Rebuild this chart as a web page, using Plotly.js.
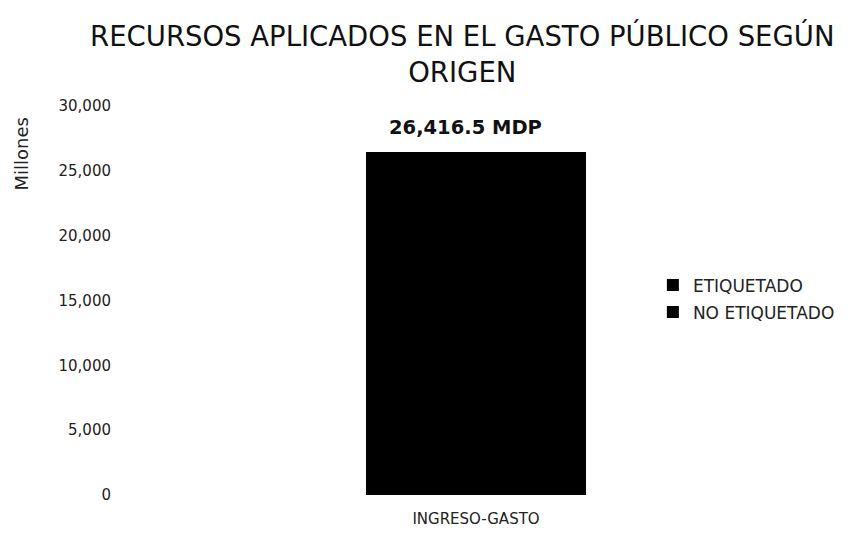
<!DOCTYPE html>
<html>
<head>
<meta charset="utf-8">
<script src="https://cdn.plot.ly/plotly-3.0.1.min.js"></script>
<style>html,body{margin:0;padding:0;background:#fff;}#chart{width:847px;height:535px;}</style>
</head>
<body>
<div id="chart"></div>
<script>
const categories = ["INGRESO-GASTO"];
const seriesNames = ["NO ETIQUETADO", "ETIQUETADO"];
const noEtiquetado = [22000];
const etiquetado = [4416.5];
const totalLabel = "26,416.5 MDP";
const yTicks = [0, 5000, 10000, 15000, 20000, 25000, 30000];

const FONT = "DejaVu Sans, sans-serif";
const total = noEtiquetado[0] + etiquetado[0];

const traces = [
  {type: "bar", x: categories, y: noEtiquetado, name: seriesNames[0], legendgroup: "a", marker: {color: "#000"}, width: 0.305, legendrank: 2, hoverinfo: "none"},
  {type: "bar", x: categories, y: etiquetado, name: seriesNames[1], legendgroup: "b", marker: {color: "#000"}, width: 0.305, legendrank: 1, hoverinfo: "none"}
];

const layout = {
  width: 847, height: 535,
  barmode: "stack",
  paper_bgcolor: "#fff", plot_bgcolor: "#fff",
  margin: {l: 115, r: 7, t: 106, b: 40},
  font: {family: FONT, color: "#222"},
  title: {text: "RECURSOS APLICADOS EN EL GASTO PÚBLICO SEGÚN<br>ORIGEN", xref: "paper", x: 0.481, xanchor: "center", yref: "container", y: 0.914, yanchor: "middle", font: {size: 27.5, color: "#111", family: FONT}},
  xaxis: {showgrid: false, zeroline: false, showline: false, ticks: "", tickfont: {size: 15, color: "#222"}, ticklabelstandoff: 13},
  yaxis: {range: [0, 30000], tickvals: yTicks, tickformat: ",d", showgrid: false, zeroline: false, showline: false, ticks: "", tickfont: {size: 15, color: "#222"}, ticklabelstandoff: 3},
  legend: {x: 0.745, xanchor: "left", y: 0.504, yanchor: "middle", traceorder: "grouped", tracegroupgap: 2, font: {size: 17, color: "#222"}, itemwidth: 30, bgcolor: "rgba(0,0,0,0)"},
  showlegend: true,
  annotations: [
    {x: categories[0], y: total, xref: "x", yref: "y", text: "<b>" + totalLabel + "</b>", showarrow: false, yanchor: "middle", yshift: 25, xshift: -11, font: {size: 19.5, color: "#111", family: FONT}},
    {xref: "paper", yref: "paper", x: -0.1295, y: 0.8766, xanchor: "center", yanchor: "middle", text: "Millones", textangle: -90, showarrow: false, font: {size: 18, color: "#222", family: FONT}}
  ]
};

Plotly.newPlot("chart", traces, layout, {staticPlot: true, displayModeBar: false});
</script>
</body>
</html>
